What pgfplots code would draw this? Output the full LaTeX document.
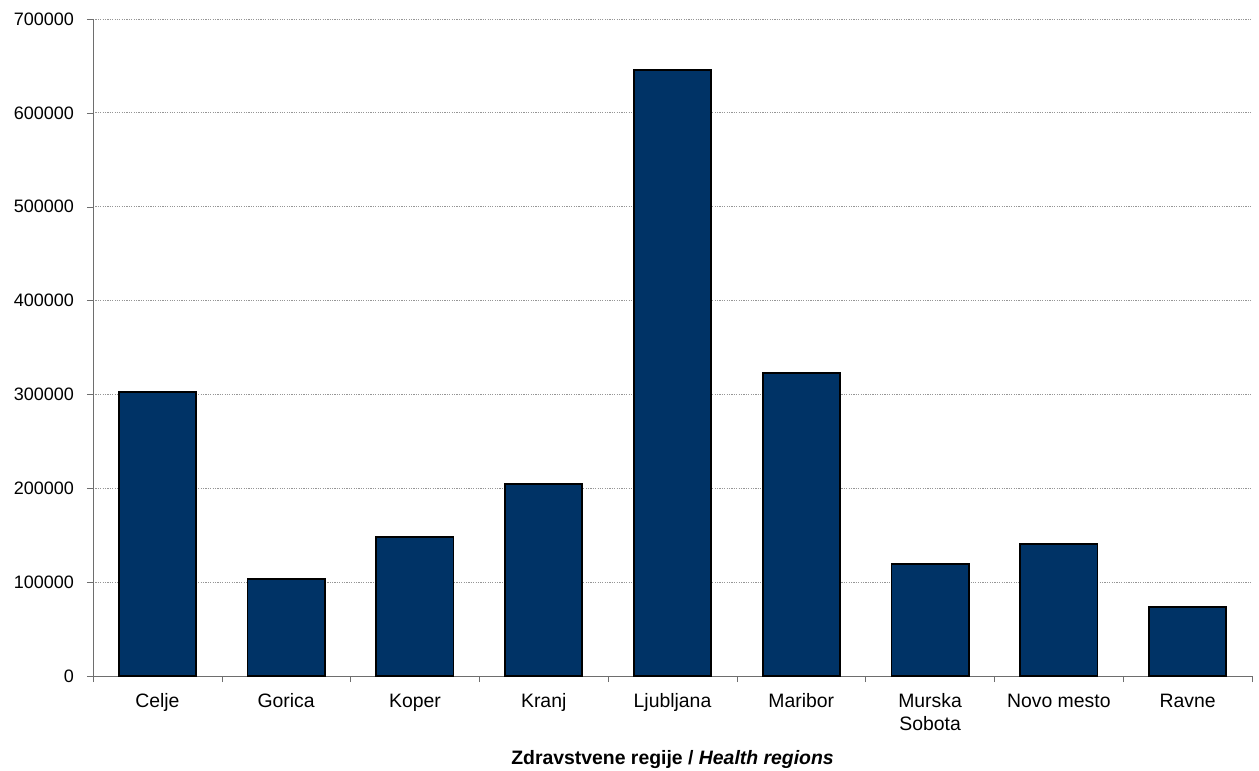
\documentclass[border=0pt]{standalone}
\usepackage{pgfplots}
\pgfplotsset{compat=1.18}
\usepackage{fontspec}
\setmainfont{Liberation Sans}
\definecolor{barblue}{RGB}{0,51,102}
\definecolor{gridgrey}{RGB}{150,150,150}
\definecolor{axisgrey}{RGB}{110,110,110}

\begin{document}
\begin{tikzpicture}
\begin{axis}[
    at={(0,0)}, anchor=south west,
    scale only axis,
    width=579.5bp, height=328.5bp,
    ybar, bar width=0.6,
    xmin=-0.5, xmax=8.5,
    ymin=0, ymax=700000,
    ytick={0,100000,...,700000},
    scaled y ticks=false,
    /pgf/number format/.cd, fixed, 1000 sep={}, assume math mode=true,
    /pgfplots/.cd,
    xtick={0,...,8},
    xticklabels={\strut Celje, \strut Gorica, \strut Koper, \strut Kranj, \strut Ljubljana, \strut Maribor, {\strut Murska\\Sobota}, \strut Novo mesto, \strut Ravne},
    xticklabel style={align=center, font=\fontsize{9.7bp}{11.5bp}\selectfont, yshift=-1bp},
    yticklabel style={font=\fontsize{9bp}{11bp}\selectfont, xshift=-3bp},
    major x tick style={draw=none},
    minor xtick={-0.5,0.5,...,8.5},
    minor x tick style={axisgrey},
    minor tick length=3bp,
    major tick length=3bp,
    tick align=outside,
    y tick style={axisgrey},
    axis x line*=bottom, axis y line*=left,
    axis line style={axisgrey, -},
    ymajorgrids,
    major grid style={gridgrey, dash pattern=on 0.6pt off 0.6pt, line width=0.4pt},
    xlabel={\textbf{Zdravstvene regije / \textit{Health regions}}},
    xlabel style={font=\fontsize{9.7bp}{11.5bp}\selectfont,
        at={(axis description cs:0.5,0)}, anchor=base, yshift=-44bp},
]
\addplot[fill=barblue, draw=black, line width=0.9bp] coordinates {
    (0, 302500) (1, 103300) (2, 148300) (3, 204600) (4, 645600)
    (5, 322800) (6, 119300) (7, 140600) (8, 73200)
};
\end{axis}
\pgfresetboundingbox
\path[use as bounding box] (-46.5bp,-47.5bp) rectangle (583bp,338bp);
\end{tikzpicture}
\end{document}
